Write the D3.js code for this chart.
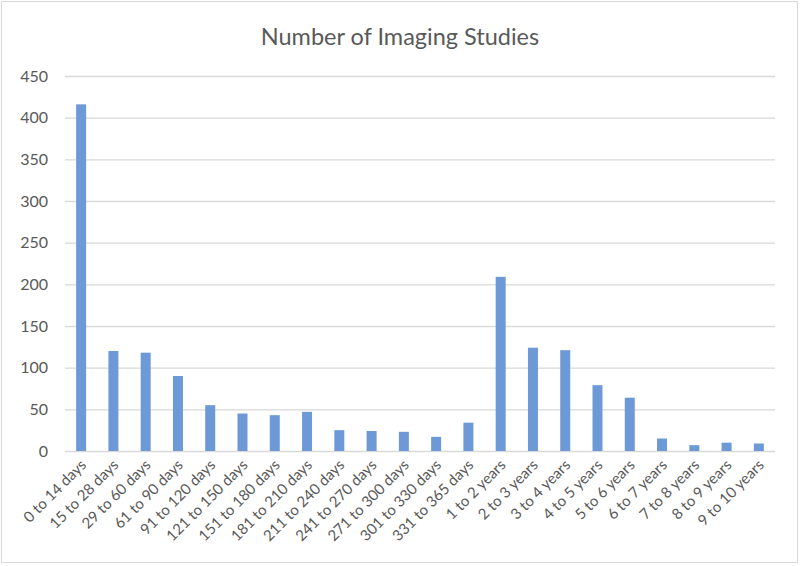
<!DOCTYPE html>
<html><head><meta charset="utf-8">
<script src="https://cdn.jsdelivr.net/npm/d3@7"></script>
<style>body{margin:0;background:#fff}</style>
</head><body><svg id="c" width="800" height="566"></svg>
<script>
const categories = ["0 to 14 days","15 to 28 days","29 to 60 days","61 to 90 days","91 to 120 days","121 to 150 days","151 to 180 days","181 to 210 days","211 to 240 days","241 to 270 days","271 to 300 days","301 to 330 days","331 to 365 days","1 to 2 years","2 to 3 years","3 to 4 years","4 to 5 years","5 to 6 years","6 to 7 years","7 to 8 years","8 to 9 years","9 to 10 years"];
const values = [416,120,118,90,55,45,43,47,25,24,23,17,34,209,124,121,79,64,15,7,10,9];
const yTicks = [0,50,100,150,200,250,300,350,400,450];
const title = "Number of Imaging Studies";

const svg = d3.select("#c");
const font = "Lato, 'Open Sans', sans-serif";
const textColor = "#595959";
svg.append("rect").attr("x",1.5).attr("y",1.5).attr("width",796).attr("height",561)
  .attr("fill","#fff").attr("stroke","#d9d9d9");

const m = {left:65, right:775, top:76, bottom:451};
const x = d3.scaleBand().domain(categories).range([m.left,m.right]).paddingInner(0.69).paddingOuter(0.345);
const y = d3.scaleLinear().domain([0,450]).range([m.bottom,m.top]);

const yAxis = svg.append("g").attr("transform",`translate(${m.left},0)`)
  .call(d3.axisLeft(y).tickValues(yTicks).tickSize(-(m.right-m.left)).tickPadding(17));
yAxis.select(".domain").remove();
yAxis.selectAll(".tick line").attr("stroke","#d9d9d9").attr("stroke-width",1.3);
yAxis.selectAll(".tick text").attr("fill",textColor).style("font-family",font).style("font-size","16px");

svg.append("g").selectAll("rect").data(values).join("rect")
  .attr("x",(d,i)=>x(categories[i])).attr("width",x.bandwidth())
  .attr("y",d=>y(d)).attr("height",d=>y(0)-y(d)).attr("fill","#6d9ad6");

const xAxis = svg.append("g").attr("transform",`translate(0,${m.bottom})`)
  .call(d3.axisBottom(x).tickSize(0).tickPadding(0));
xAxis.select(".domain").remove();
xAxis.selectAll(".tick text").attr("fill",textColor).style("font-family",font).style("font-size","15px")
  .attr("text-anchor","end").attr("dy","0").attr("y",0)
  .attr("transform","translate(6,15) rotate(-45)");

svg.append("text").attr("x",400).attr("y",45).attr("text-anchor","middle")
  .attr("fill",textColor).style("font-family",font).style("font-size","23.5px").text(title);
</script></body></html>
